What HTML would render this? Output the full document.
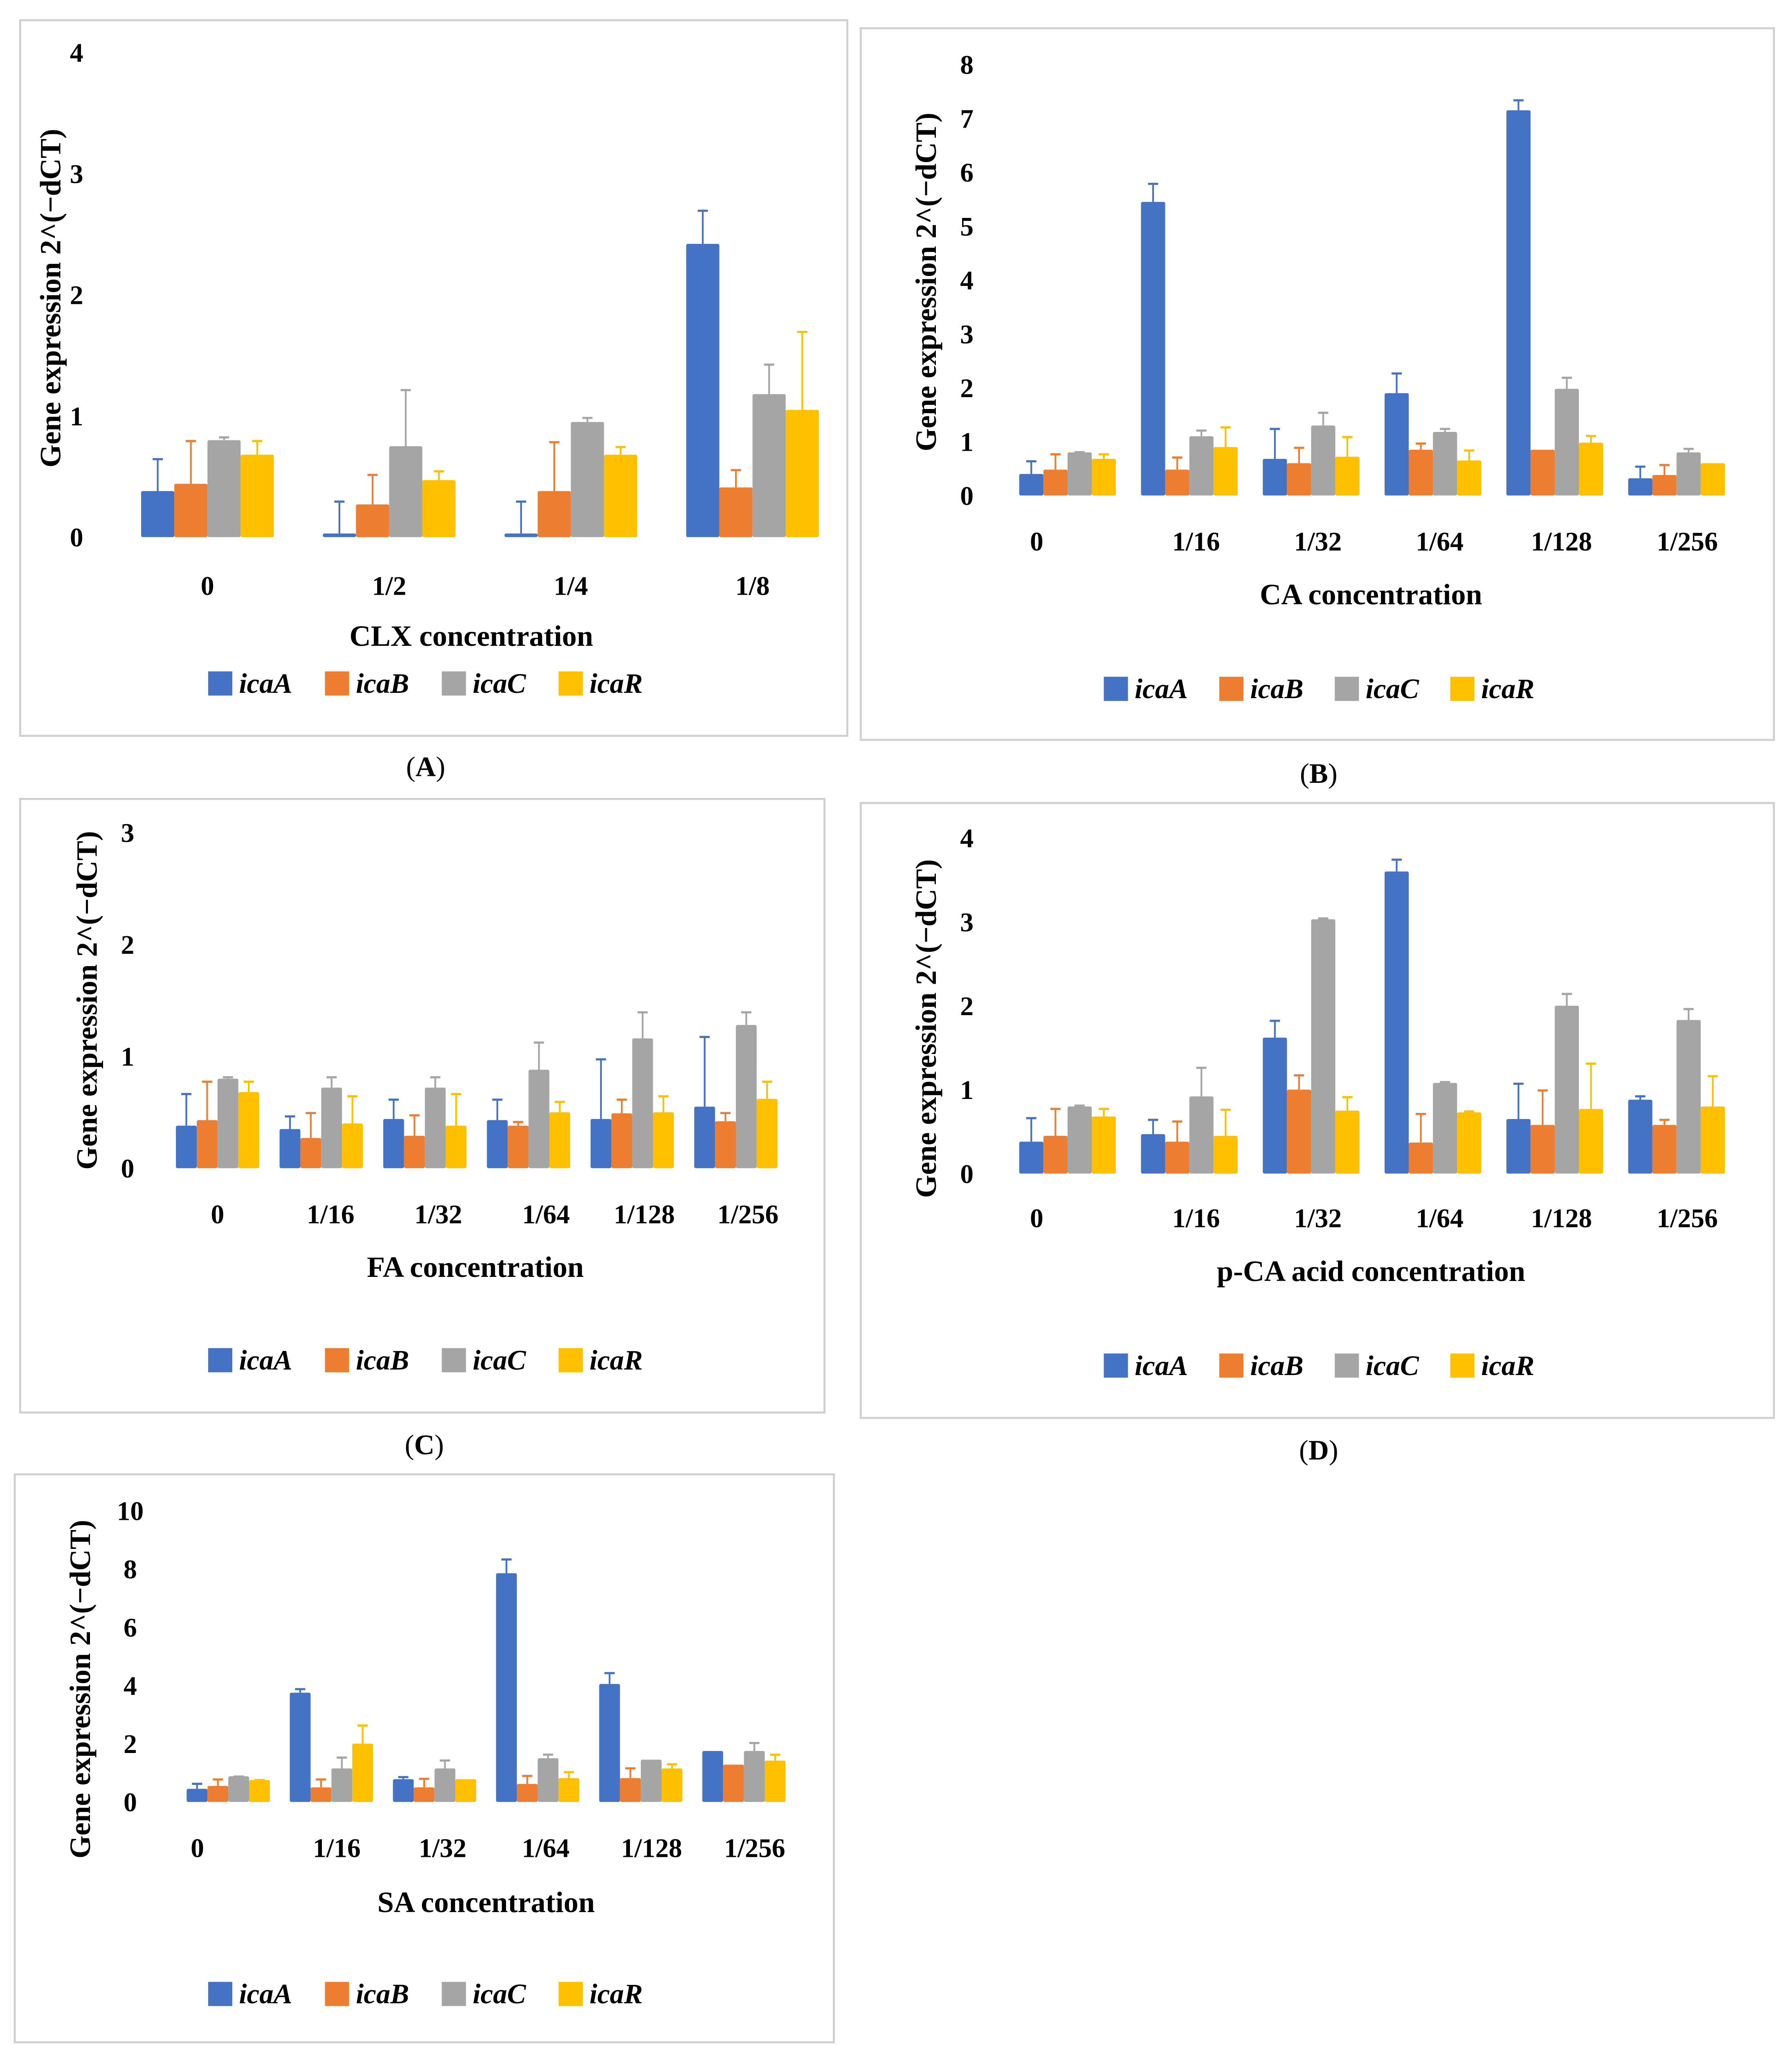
<!DOCTYPE html>
<html><head><meta charset="utf-8"><style>
html,body{margin:0;padding:0;background:#fff;width:4381px;height:5133px;overflow:hidden;}
svg{display:block;}
text{font-family:"Liberation Serif",serif;fill:#000;}
</style></head><body>
<svg id="fig" width="4381" height="5133" viewBox="0 0 1334.5 1563.5" xmlns="http://www.w3.org/2000/svg"></svg>
<script>
// Panel A (CLX)
const catsA = ["0","1/2","1/4","1/8"];
const icaA_A = [0.38,0.03,0.03,2.42], icaA_Aerr = [0.65,0.30,0.30,2.70];
const icaB_A = [0.44,0.27,0.38,0.41], icaB_Aerr = [0.80,0.52,0.79,0.56];
const icaC_A = [0.80,0.75,0.95,1.18], icaC_Aerr = [0.83,1.22,0.99,1.43];
const icaR_A = [0.68,0.47,0.68,1.05], icaR_Aerr = [0.80,0.55,0.75,1.70];
const ticksA = [0,1,2,3,4];
// Panel B (CA)
const cats6 = ["0","1/16","1/32","1/64","1/128","1/256"];
const icaA_B = [0.40,5.45,0.68,1.90,7.15,0.32], icaA_Berr = [0.65,5.80,1.25,2.28,7.35,0.55];
const icaB_B = [0.48,0.48,0.60,0.85,0.85,0.38], icaB_Berr = [0.78,0.72,0.90,0.98,0.85,0.58];
const icaC_B = [0.80,1.10,1.30,1.18,1.98,0.80], icaC_Berr = [0.82,1.22,1.55,1.25,2.20,0.88];
const icaR_B = [0.68,0.90,0.72,0.65,0.98,0.60], icaR_Berr = [0.78,1.28,1.10,0.85,1.12,0.60];
const ticksB = [0,1,2,3,4,5,6,7,8];
// Panel C (FA)
const icaA_C = [0.38,0.35,0.44,0.43,0.44,0.55], icaA_Cerr = [0.67,0.47,0.62,0.62,0.98,1.18];
const icaB_C = [0.43,0.27,0.29,0.38,0.49,0.42], icaB_Cerr = [0.78,0.50,0.48,0.42,0.62,0.50];
const icaC_C = [0.80,0.72,0.72,0.88,1.16,1.28], icaC_Cerr = [0.82,0.82,0.82,1.13,1.40,1.40];
const icaR_C = [0.68,0.40,0.38,0.50,0.50,0.62], icaR_Cerr = [0.78,0.65,0.67,0.60,0.65,0.78];
const ticksC = [0,1,2,3];
// Panel D (p-CA)
const icaA_D = [0.38,0.47,1.62,3.60,0.65,0.88], icaA_Derr = [0.67,0.65,1.83,3.75,1.08,0.93];
const icaB_D = [0.45,0.38,1.00,0.37,0.58,0.58], icaB_Derr = [0.78,0.63,1.18,0.72,1.00,0.65];
const icaC_D = [0.80,0.92,3.03,1.08,2.00,1.83], icaC_Derr = [0.82,1.27,3.05,1.10,2.15,1.97];
const icaR_D = [0.68,0.45,0.75,0.73,0.77,0.80], icaR_Derr = [0.78,0.77,0.92,0.75,1.32,1.17];
const ticksD = [0,1,2,3,4];
// Panel E (SA)
const icaA_E = [0.45,3.75,0.78,7.85,4.05,1.75], icaA_Eerr = [0.65,3.90,0.88,8.35,4.45,1.75];
const icaB_E = [0.55,0.50,0.50,0.62,0.82,1.28], icaB_Eerr = [0.80,0.80,0.82,0.92,1.18,1.28];
const icaC_E = [0.88,1.15,1.15,1.50,1.45,1.75], icaC_Eerr = [0.90,1.55,1.45,1.65,1.45,2.05];
const icaR_E = [0.75,2.00,0.78,0.82,1.15,1.42], icaR_Eerr = [0.78,2.65,0.78,1.05,1.32,1.65];
const ticksE = [0,2,4,6,8,10];
const seriesNames = ["icaA","icaB","icaC","icaR"];
const colors = ["#4472C4","#ED7D31","#A5A5A5","#FFC000"];

const NS="http://www.w3.org/2000/svg";
const svg=document.getElementById('fig');
function mk(tag,attrs,parent){const e=document.createElementNS(NS,tag);for(const k in attrs)e.setAttribute(k,attrs[k]);(parent||svg).appendChild(e);return e;}

function panel(p){
  const g=mk('g',{});
  
  
  const box=mk('rect',{x:p.box[0],y:p.box[1],width:p.box[2]-p.box[0],height:p.box[3]-p.box[1],fill:'none',stroke:'#d0d0d0','stroke-width':1.5},g);
  
  
  const y=v=>p.y0-(v/p.ymax)*(p.y0-p.yTop);
  const x=i=>p.x0+i*p.step;
  p.ticks.forEach(t=>{
    const tx=mk('text',{x:p.tickX,y:y(t)+7,'text-anchor':'middle','font-size':20,'font-weight':'bold'},g);
    tx.textContent=t;
    
    
  });
  const bw=p.bw;
  p.series.forEach((s,si)=>{
    s.v.forEach((v,i)=>{
      const bx=x(i)-2*bw+si*bw;
      const top=y(v);
      const r=mk('rect',{x:bx,y:top,width:bw,height:Math.max(0.5,p.y0-top),fill:colors[si],rx:1.2},g);
      
      
      const cx=bx+bw/2, et=y(s.e[i]);
      if(s.e[i]>v){
        const l=mk('line',{x1:cx,x2:cx,y1:top,y2:et,stroke:colors[si],'stroke-width':1.3},g);
        
        
        const c=mk('line',{x1:cx-3.8,x2:cx+3.8,y1:et+0.6,y2:et+0.6,stroke:colors[si],'stroke-width':1.6},g);
        
        
      }
    });
  });
  p.cats.forEach((c,i)=>{
    const tx=mk('text',{x:x(i)+(p.labOff?p.labOff[i]:0),y:p.catY,'text-anchor':'middle','font-size':20,'font-weight':'bold'},g);
    tx.textContent=c;
    
    
  });
  const yt=mk('text',{x:0,y:0,'text-anchor':'middle','font-size':22,'font-weight':'bold',transform:`translate(${p.yTitle[0]},${p.yTitle[1]}) rotate(-90)`},g);
  yt.textContent='Gene expression 2^(\u2212dCT)';
  
  
  const xt=mk('text',{x:p.xTitle[0],y:p.xTitle[1],'text-anchor':'middle','font-size':22,'font-weight':'bold'},g);
  xt.textContent=p.xt;
  
  
  seriesNames.forEach((n,si)=>{
    const lx=p.legX+si*p.legStep;
    const lg=mk('g',{},g);
    
    
    mk('rect',{x:lx,y:p.legY-9,width:18,height:18,fill:colors[si]},lg);
    const t=mk('text',{x:lx+23,y:p.legY+7,'font-size':21,'font-weight':'bold','font-style':'italic'},lg);
    t.textContent=n;
  });
  const cap=mk('text',{x:p.cap[0],y:p.cap[1],'text-anchor':'middle','font-size':21},svg);
  cap.innerHTML='(<tspan font-weight="bold">'+p.id+'</tspan>)';
  
  
}
function S(a,ae,b,be,c,ce,r,re){return [{v:a,e:ae},{v:b,e:be},{v:c,e:ce},{v:r,e:re}];}

panel({id:'A',box:[15,15,631,548],y0:400,yTop:39,ymax:4,ticks:ticksA,tickX:57,x0:154.5,step:135.3,bw:24.7,cats:catsA,catY:443,
  series:S(icaA_A,icaA_Aerr,icaB_A,icaB_Aerr,icaC_A,icaC_Aerr,icaR_A,icaR_Aerr),yTitle:[45,222],xt:'CLX concentration',xTitle:[351,481],
  legX:155,legStep:87,legY:509,cap:[317,578]});
panel({id:'B',box:[641,21,1321,551],y0:369,yTop:48,ymax:8,ticks:ticksB,tickX:720,x0:795,step:90.7,bw:18,cats:cats6,catY:410,labOff:[-23,5,5,5,5,8],
  series:S(icaA_B,icaA_Berr,icaB_B,icaB_Berr,icaC_B,icaC_Berr,icaR_B,icaR_Berr),yTitle:[697,210],xt:'CA concentration',xTitle:[1021,450],
  legX:822,legStep:86,legY:513,cap:[982,583]});
panel({id:'C',box:[15,595,614,1052],y0:870,yTop:620,ymax:3,ticks:ticksC,tickX:95,x0:162,step:77.2,bw:15.5,cats:cats6,catY:911,labOff:[0,7,10,13,9,9],
  series:S(icaA_C,icaA_Cerr,icaB_C,icaB_Cerr,icaC_C,icaC_Cerr,icaR_C,icaR_Cerr),yTitle:[72,745],xt:'FA concentration',xTitle:[354,951],
  legX:155,legStep:87,legY:1013,cap:[316,1083]});
panel({id:'D',box:[641,598,1321,1056],y0:874,yTop:624,ymax:4,ticks:ticksD,tickX:720,x0:795,step:90.7,bw:18,cats:cats6,catY:914,labOff:[-23,5,5,5,5,8],
  series:S(icaA_D,icaA_Derr,icaB_D,icaB_Derr,icaC_D,icaC_Derr,icaR_D,icaR_Derr),yTitle:[697,766],xt:'p-CA acid concentration',xTitle:[1021,954],
  legX:822,legStep:86,legY:1017,cap:[982,1087]});
panel({id:'E',box:[11,1098,621,1521],y0:1342,yTop:1125,ymax:10,ticks:ticksE,tickX:97,x0:170,step:76.8,bw:15.5,cats:cats6,catY:1383,labOff:[-23,4,6,6,8,8],
  series:S(icaA_E,icaA_Eerr,icaB_E,icaB_Eerr,icaC_E,icaC_Eerr,icaR_E,icaR_Eerr),yTitle:[67,1258],xt:'SA concentration',xTitle:[362,1424],
  legX:155,legStep:87,legY:1485,cap:[316,1550]});
</script>
</body></html>
